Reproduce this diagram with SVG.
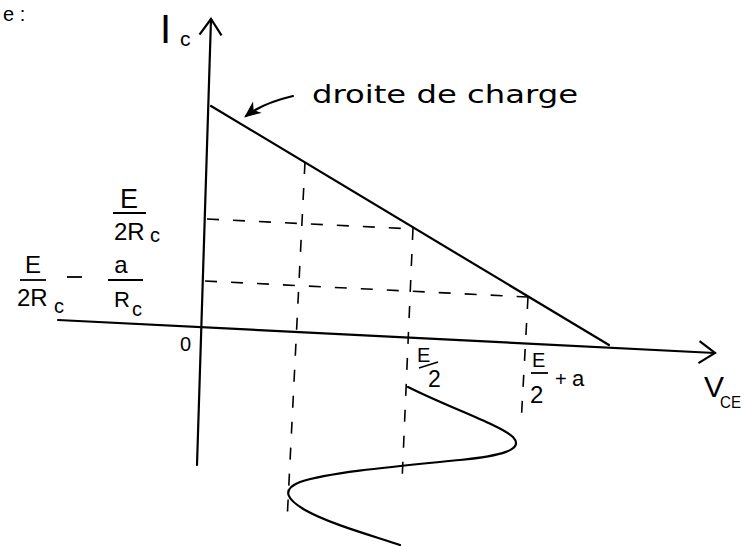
<svg xmlns="http://www.w3.org/2000/svg" width="746" height="546" viewBox="0 0 746 546">
<defs>
<style>
.ax{stroke:#000;stroke-width:2.2;fill:none;stroke-linecap:round}
.ln{stroke:#000;stroke-width:2.2;fill:none;stroke-linecap:round}
.ds{stroke:#000;stroke-width:1.6;fill:none;stroke-dasharray:12 14}
.t{font-family:"Liberation Sans",Arial,sans-serif;fill:#000}
.bar{stroke:#000;stroke-width:1.8;fill:none}
</style>
<marker id="open" viewBox="0 0 16 24" refX="16" refY="12" markerWidth="16" markerHeight="24" markerUnits="userSpaceOnUse" orient="auto" overflow="visible">
<path d="M0,1 L16,12 L0,23" fill="none" stroke="#000" stroke-width="2.2" stroke-linejoin="miter"/>
</marker>
<marker id="small" viewBox="0 0 14 12" refX="13" refY="6" markerWidth="14" markerHeight="12" markerUnits="userSpaceOnUse" orient="auto" overflow="visible">
<path d="M0,0 L14,6 L0,12 L4,6 Z" fill="#000" stroke="#000" stroke-width="1"/>
</marker>
</defs>
<rect width="746" height="546" fill="#fff"/>

<text class="t" x="3" y="21" font-size="20">e :</text>

<g id="connectors">
<path id="axis-ic" class="ax" d="M197,465 L211,19" marker-end="url(#open)"/>
<path id="axis-vce" class="ax" d="M58,320 L715,353" marker-end="url(#open)"/>
<path id="load-line" class="ln" d="M211,106 L609,345"/>
<path id="label-arrow" class="ln" d="M293,96 C276,100 259,106 246,116" marker-end="url(#small)"/>
<path class="ds" d="M207,219 L413,229"/>
<path class="ds" d="M205,281 L528,297"/>
<path class="ds" d="M305,162 L287,522"/>
<path class="ds" d="M413,228 L402,482"/>
<path class="ds" d="M528,297 L521,425"/>
</g>

<g id="signal">
<path class="ln" d="M408,387 C450,408 500,425 513,437 C525,450 500,456 460,460 C400,466 330,472 300,482 C280,490 288,500 305,510 C330,524 370,535 400,545"/>
</g>

<g id="label-ic">
<text class="t" x="160" y="43" font-size="40">I</text>
<text class="t" x="180" y="46" font-size="21">c</text>
</g>

<g id="label-droite">
<text x="312" y="103" font-family="DejaVu Sans, sans-serif" font-size="25" textLength="266" lengthAdjust="spacingAndGlyphs">droite de charge</text>
</g>

<g id="label-e2rc">
<text class="t" x="129" y="208" font-size="27" text-anchor="middle">E</text>
<line class="bar" x1="113" y1="213" x2="146" y2="213"/>
<text class="t" x="114" y="240" font-size="24">2R</text>
<text class="t" x="150" y="242" font-size="20">c</text>
</g>

<g id="label-e2rc-arc">
<text class="t" x="33" y="273" font-size="24" text-anchor="middle">E</text>
<line class="bar" x1="20" y1="280" x2="46" y2="280"/>
<text class="t" x="17" y="306" font-size="24">2R</text>
<text class="t" x="54" y="313" font-size="20">c</text>
<line class="bar" x1="67" y1="277" x2="82" y2="277"/>
<text class="t" x="121" y="273" font-size="24" text-anchor="middle">a</text>
<line class="bar" x1="108" y1="280" x2="143" y2="280"/>
<text class="t" x="114" y="307" font-size="22">R</text>
<text class="t" x="132" y="316" font-size="20">c</text>
</g>

<g id="label-zero">
<text class="t" x="180" y="351" font-size="20">0</text>
</g>

<g id="label-e2">
<text class="t" x="417" y="362" font-size="20">E</text>
<line class="bar" x1="419" y1="368" x2="438" y2="362"/>
<text class="t" x="428" y="387" font-size="23">2</text>
</g>

<g id="label-e2a">
<text class="t" x="532" y="367" font-size="20">E</text>
<line class="bar" x1="531" y1="373" x2="548" y2="373"/>
<text class="t" x="530" y="403" font-size="24">2</text>
<text class="t" x="555" y="386" font-size="20">+</text>
<text class="t" x="572" y="386" font-size="22">a</text>
</g>

<g id="label-vce">
<text class="t" x="704" y="397" font-size="30">V</text>
<text class="t" x="720" y="408" font-size="17" textLength="21" lengthAdjust="spacingAndGlyphs">CE</text>
</g>
</svg>
